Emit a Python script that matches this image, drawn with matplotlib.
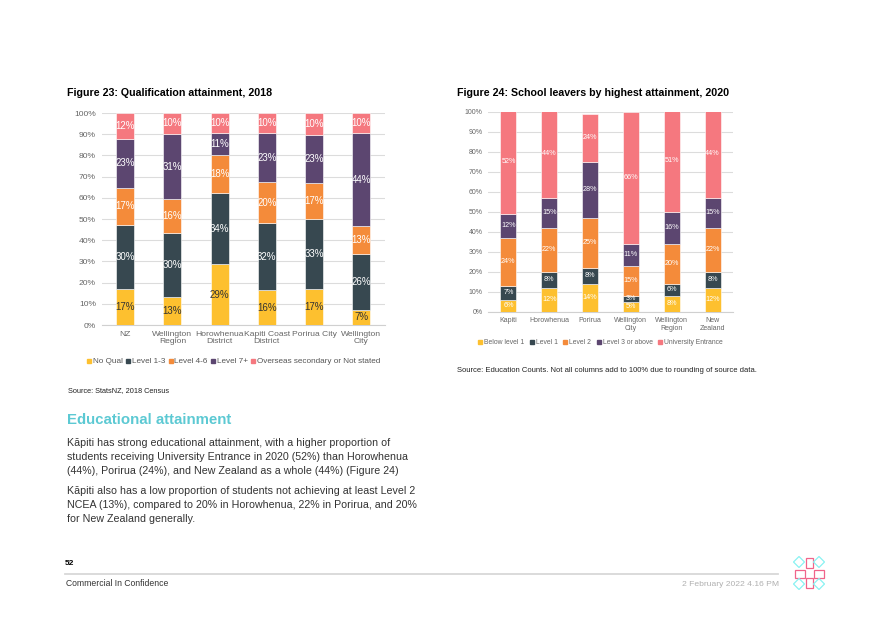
import numpy as np
import matplotlib.pyplot as plt
from matplotlib.patches import Rectangle, Polygon
from matplotlib.lines import Line2D

plt.rcParams['font.family'] = ['Liberation Sans', 'DejaVu Sans']

# Figure 23: qualification attainment, 2018 (shares in %)
areas23 = ["NZ", "Wellington\nRegion", "Horowhenua\nDistrict", "Kapiti Coast\nDistrict",
           "Porirua City", "Wellington\nCity"]
series23 = ["No Qual", "Level 1-3", "Level 4-6", "Level 7+", "Overseas secondary or Not stated"]
no_qual = [17.0, 13.4, 28.7, 16.3, 17.1, 7.3]
level_1_3 = [30.2, 29.8, 33.6, 31.6, 32.7, 26.3]
level_4_6 = [17.4, 16.1, 17.7, 19.6, 17.1, 12.9]
level_7 = [23.2, 30.9, 10.6, 23.0, 22.9, 44.1]
overseas = [12.2, 9.8, 9.6, 9.7, 10.2, 9.6]

# Figure 24: school leavers by highest attainment, 2020 (%)
areas24 = ["Kapiti", "Horowhenua", "Porirua", "Wellington\nCity", "Wellington\nRegion", "New\nZealand"]
series24 = ["Below level 1", "Level 1", "Level 2", "Level 3 or above", "University Entrance"]
below_l1 = [6, 12, 14, 5, 8, 12]
level_1 = [7, 8, 8, 3, 6, 8]
level_2 = [24, 22, 25, 15, 20, 22]
level_3 = [12, 15, 28, 11, 16, 15]
uni_entrance = [52, 44, 24, 66, 51, 44]

colors = ["#FDC02F", "#374850", "#F48B3A", "#5C4670", "#F5787F"]

W, H = 893, 626
fig = plt.figure(figsize=(W / 100, H / 100), dpi=100)


def fx(x):
    return x / W


def fy(y):
    return 1 - y / H


def txt(x, y, s, **kw):
    kw.setdefault('va', 'center')
    fig.text(fx(x), fy(y), s, **kw)


def stacked(ax, labels, data, width, fs_lab, fs_tick, dark_first):
    x = np.arange(len(labels))
    bottom = np.zeros(len(labels))
    for i, vals in enumerate(data):
        vals = np.array(vals, dtype=float)
        ax.bar(x, vals, width, bottom=bottom, color=colors[i], edgecolor='white',
               linewidth=0.4, zorder=3)
        for xi, b, v in zip(x, bottom, vals):
            c = '#333333' if (i == 0 and dark_first) else 'white'
            ax.text(xi, b + v / 2, f"{v:.0f}%", ha='center', va='center',
                    fontsize=fs_lab, color=c, zorder=4)
        bottom += vals
    ax.set_ylim(0, 100)
    ax.set_xlim(-0.5, len(labels) - 0.5)
    ax.set_yticks(np.arange(0, 101, 10))
    ax.set_yticklabels([f"{t}%" for t in range(0, 101, 10)])
    ax.set_xticks(x)
    ax.set_xticklabels(labels, linespacing=1.05)
    ax.tick_params(length=0, labelsize=fs_tick, colors='#666666', pad=4)
    ax.grid(axis='y', color='#DCDCDC', linewidth=0.8, zorder=0)
    for s in ['top', 'right', 'left']:
        ax.spines[s].set_visible(False)
    ax.spines['bottom'].set_color('#D0D0D0')
    ax.spines['bottom'].set_linewidth(0.8)
    ax.set_axisbelow(True)


ax1 = fig.add_axes([fx(101.5), fy(325), fx(283.5), 212 / H])
stacked(ax1, areas23, [no_qual, level_1_3, level_4_6, level_7, overseas], 0.38, 7.0, 6.1, True)

ax2 = fig.add_axes([fx(488), fy(311.7), fx(245), 200 / H])
stacked(ax2, areas24, [below_l1, level_1, level_2, level_3, uni_entrance], 0.39, 5.2, 5.0, False)

# legends
h1 = [Line2D([], [], marker='s', ls='', color=c, markersize=3.3) for c in colors]
fig.legend(h1, series23, loc='center', bbox_to_anchor=(fx(233.5), fy(361.5)), ncol=5,
           frameon=False, fontsize=5.9, handlelength=0.6, handletextpad=0.15,
           columnspacing=0.35, labelcolor='#555555')
fig.legend(h1, series24, loc='center', bbox_to_anchor=(fx(600.5), fy(343)), ncol=5,
           frameon=False, fontsize=4.9, handlelength=0.6, handletextpad=0.3,
           columnspacing=0.8, labelcolor='#666666')

# titles and sources
txt(67, 92.5, "Figure 23: Qualification attainment, 2018", fontsize=7.7, fontweight='bold', color='black')
txt(457, 92.5, "Figure 24: School leavers by highest attainment, 2020", fontsize=7.7, fontweight='bold', color='black')
txt(68, 390.5, "Source: StatsNZ, 2018 Census", fontsize=5.3, color='#222222')
txt(457, 370.5, "Source: Education Counts. Not all columns add to 100% due to rounding of source data.",
    fontsize=5.5, color='#222222')

# body text
txt(67, 420.5, "Educational attainment", fontsize=10.8, fontweight='bold', color='#5CC9D3')
body = ["Kāpiti has strong educational attainment, with a higher proportion of",
        "students receiving University Entrance in 2020 (52%) than Horowhenua",
        "(44%), Porirua (24%), and New Zealand as a whole (44%) (Figure 24)",
        "Kāpiti also has a low proportion of students not achieving at least Level 2",
        "NCEA (13%), compared to 20% in Horowhenua, 22% in Porirua, and 20%",
        "for New Zealand generally."]
ys = [443.3, 457.3, 471.3, 490.7, 504.7, 518.7]
for s, y in zip(body, ys):
    txt(67, y, s, fontsize=7.7, color='#333333')

# footer
txt(65, 563.5, "52", fontsize=6, fontweight='bold', color='black')
fig.add_artist(Line2D([fx(65), fx(778)], [fy(573.5), fy(573.5)], color='#D8D8D8', lw=1.3))
txt(65.5, 584, "Commercial In Confidence", fontsize=6.2, color='#333333')
txt(779, 584, "2 February 2022 4.16 PM", fontsize=6.1, color='#B0B0B0', ha='right')

# logo
pink = '#F0648A'
cyan = '#8AF2F2'
for (x0, y0, w, h) in [(805.5, 558, 7, 10), (805.5, 578, 7, 10), (795, 569.5, 10, 8), (814, 569.5, 10, 8)]:
    fig.add_artist(Rectangle((fx(x0), fy(y0 + h)), w / W, h / H, fill=False, ec=pink, lw=0.9))
for (cx, cy) in [(799, 562), (819, 562), (799, 584), (819, 584)]:
    r = 5.5
    pts = [(fx(cx), fy(cy - r)), (fx(cx + r), fy(cy)), (fx(cx), fy(cy + r)), (fx(cx - r), fy(cy))]
    fig.add_artist(Polygon(pts, closed=True, fill=False, ec=cyan, lw=0.9))

fig.savefig("out.png", dpi=100)
